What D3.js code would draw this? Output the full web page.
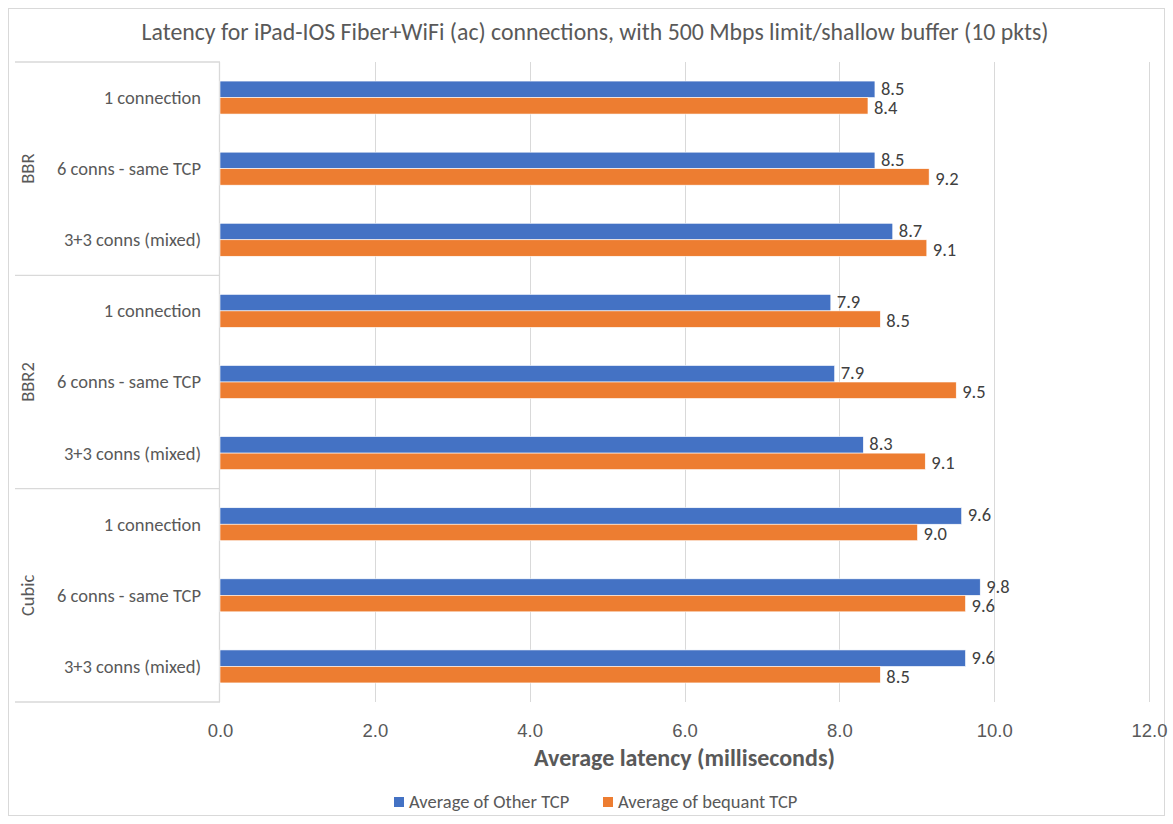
<!DOCTYPE html>
<html>
<head>
<meta charset="utf-8">
<script src="https://cdn.jsdelivr.net/npm/d3@7"></script>
<style>
  html, body { margin: 0; padding: 0; background: #fff; }
  svg { display: block; font-family: Carlito, Calibri, Lato, sans-serif; }
</style>
</head>
<body>
<svg id="chart" width="1173" height="824"></svg>
<script>
// Congestion-control groups and the connection scenarios within each
const groups = ["BBR", "BBR2", "Cubic"];
const scenarios = ["1 connection", "6 conns - same TCP", "3+3 conns (mixed)"];
const seriesNames = ["Average of Other TCP", "Average of bequant TCP"];
const seriesColors = ["#4472C4", "#ED7D31"];

// Average latency (ms), one value per group/scenario, in order
const otherTcp   = [8.46, 8.46, 8.69, 7.89, 7.94, 8.31, 9.58, 9.82, 9.63];
const bequantTcp = [8.37, 9.16, 9.13, 8.53, 9.51, 9.11, 9.01, 9.63, 8.53];

const xTicks = [0, 2, 4, 6, 8, 10, 12];

const title = "Latency for iPad-IOS Fiber+WiFi (ac) connections, with 500 Mbps limit/shallow buffer (10 pkts)";
const xTitle = "Average latency (milliseconds)";

const rows = [];
groups.forEach((g, gi) => scenarios.forEach((s, si) => {
  const i = gi * scenarios.length + si;
  rows.push({ key: g + "|" + s, group: g, scenario: s, values: [otherTcp[i], bequantTcp[i]] });
}));

const svg = d3.select("#chart");
const W = 1173, H = 824;
const plot = { left: 220, right: 1149, top: 62, bottom: 702 };
const catLeft = 15;
const textColor = "#595959";
const fs = 18.5;

// Chart frame
svg.append("rect").attr("x", 8.5).attr("y", 8.5).attr("width", W - 17).attr("height", H - 17)
  .attr("fill", "#fff").attr("stroke", "#d9d9d9");

const x = d3.scaleLinear().domain([0, 12]).range([plot.left, plot.right]);
const y = d3.scaleBand().domain(rows.map(r => r.key)).range([plot.top, plot.bottom])
  .paddingInner(0.536).paddingOuter(0.268);
const ySub = d3.scaleBand().domain([0, 1]).range([0, y.bandwidth()]);

// Vertical gridlines
svg.append("g").selectAll("line").data(xTicks.slice(1)).join("line")
  .attr("x1", d => Math.round(x(d)) + 0.5).attr("x2", d => Math.round(x(d)) + 0.5)
  .attr("y1", plot.top).attr("y2", plot.bottom)
  .attr("stroke", "#d9d9d9").attr("stroke-width", 1);

// Category axis line and group separators
const sep = svg.append("g").attr("stroke", "#d9d9d9").attr("stroke-width", 1.3);
sep.append("line").attr("x1", plot.left - 0.5).attr("x2", plot.left - 0.5)
  .attr("y1", plot.top).attr("y2", plot.bottom);
const step = y.step();
d3.range(groups.length + 1).forEach(k => {
  const yy = plot.top + k * scenarios.length * step;
  sep.append("line").attr("x1", catLeft).attr("x2", plot.left).attr("y1", yy).attr("y2", yy);
});

// Bars
const rowG = svg.append("g").selectAll("g").data(rows).join("g")
  .attr("transform", d => `translate(0,${y(d.key)})`);
rowG.selectAll("rect").data(d => d.values.map((v, i) => ({ v, i }))).join("rect")
  .attr("x", x(0))
  .attr("y", d => ySub(d.i))
  .attr("width", d => x(d.v) - x(0))
  .attr("height", ySub.bandwidth())
  .attr("fill", d => seriesColors[d.i])
  .attr("stroke", "#fff").attr("stroke-width", 0.6);

// Value labels, nudged apart slightly so the pair doesn't collide
rowG.selectAll("text").data(d => d.values.map((v, i) => ({ v, i }))).join("text")
  .attr("x", d => x(d.v) + 6)
  .attr("y", d => ySub(d.i) + ySub.bandwidth() / 2 + (d.i === 0 ? -1 : 1.5))
  .attr("dy", "0.35em")
  .attr("font-size", fs).attr("fill", "#404040")
  .text(d => d.v.toFixed(1));

// Scenario labels
svg.append("g").selectAll("text").data(rows).join("text")
  .attr("x", 201).attr("y", d => y(d.key) + y.bandwidth() / 2)
  .attr("dy", "0.35em").attr("text-anchor", "end")
  .attr("font-size", fs).attr("fill", textColor)
  .text(d => d.scenario);

// Group labels (rotated)
svg.append("g").selectAll("text").data(groups).join("text")
  .attr("transform", (g, gi) => {
    const cy = plot.top + (gi + 0.5) * scenarios.length * step;
    return `translate(28,${cy}) rotate(-90)`;
  })
  .attr("dy", "0.35em").attr("text-anchor", "middle")
  .attr("font-size", fs).attr("fill", textColor)
  .text(d => d);

// X axis tick labels
const xAxis = d3.axisBottom(x).tickValues(xTicks).tickFormat(d3.format(".1f")).tickSize(0).tickPadding(0);
const xa = svg.append("g").attr("transform", `translate(0,${plot.bottom})`).call(xAxis);
xa.select(".domain").remove();
xa.selectAll("text").attr("y", 29).attr("dy", "0.35em")
  .attr("font-size", fs).attr("fill", textColor).attr("font-family", null);

// Axis title
svg.append("text").attr("x", (plot.left + plot.right) / 2).attr("y", 758).attr("dy", "0.35em")
  .attr("text-anchor", "middle").attr("font-size", 24).attr("font-weight", "bold")
  .attr("fill", textColor).text(xTitle);

// Chart title
svg.append("text").attr("x", 595).attr("y", 32).attr("dy", "0.35em")
  .attr("text-anchor", "middle").attr("font-size", 23.8)
  .attr("fill", textColor).text(title);

// Legend
const legendX = [394, 603];
const lg = svg.append("g").selectAll("g").data(seriesNames).join("g")
  .attr("transform", (d, i) => `translate(${legendX[i]},802)`);
lg.append("rect").attr("x", 0).attr("y", -5).attr("width", 10).attr("height", 10)
  .attr("fill", (d, i) => seriesColors[i]);
lg.append("text").attr("x", 15).attr("dy", "0.35em")
  .attr("font-size", fs).attr("fill", textColor).text(d => d);
</script>
</body>
</html>
